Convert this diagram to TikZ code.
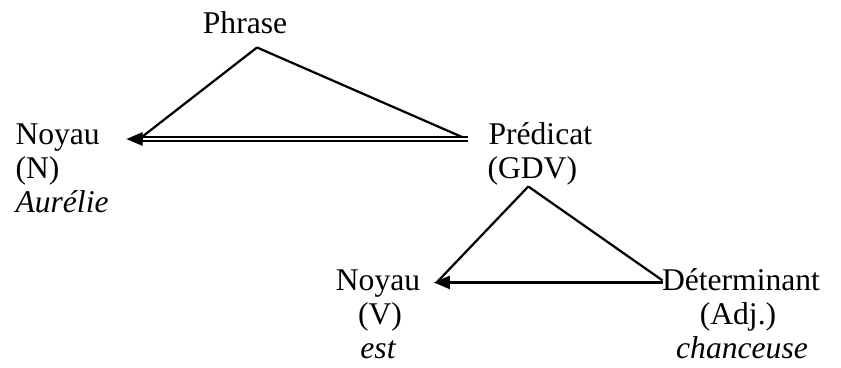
\documentclass[tikz,border=0pt]{standalone}
\usepackage{fontspec}
\setmainfont{Liberation Serif}
\usetikzlibrary{arrows.meta}

\begin{document}
\begin{tikzpicture}[
    x=0.3797pt, y=-0.3797pt,
    font=\fontsize{12}{12.9}\selectfont,
    word/.style={inner sep=0pt, text height=8.4pt, text depth=2.64pt},
    line/.style={line width=0.85pt},
    arrow/.style={line width=0.85pt, -{Triangle[length=6.2pt, width=5pt]}},
    dblline/.style={line width=0.85pt, double, double distance=0.9pt}
]
    \useasboundingbox (0,0) rectangle (841,367);
    % sentence level
    \node[word, anchor=base] (phrase) at (245,33) {Phrase};
    \node[word, anchor=base west] (noyauN) at (15,144) {Noyau};
    \node[word, anchor=base west] (catN) at (15,178) {(N)};
    \node[word, anchor=base west] (motN) at (15,212) {\itshape Aurélie};
    \node[word, anchor=base west] (predicat) at (488,144) {Prédicat};
    \node[word, anchor=base west] (gdv) at (487,178) {(GDV)};
    % predicate level
    \node[word, anchor=base] (noyauV) at (378,290) {Noyau};
    \node[word, anchor=base] (catV) at (380,324) {(V)};
    \node[word, anchor=base] (motV) at (378,358) {\itshape est};
    \node[word, anchor=base] (determ) at (741,290) {Déterminant};
    \node[word, anchor=base] (catD) at (738,324) {(Adj.)};
    \node[word, anchor=base] (motD) at (742,358) {\itshape chanceuse};
    \draw[line] ([shift={(12,7)}]phrase.south) -- ([shift={(41,1)}]noyauN.east);
    \draw[line] ([shift={(12,7)}]phrase.south) -- ([shift={(-25,1)}]predicat.west);
    % double link, tip drawn on its own
    \draw[dblline] ([shift={(-20,2.6)}]predicat.west) -- ([shift={(38,2.6)}]noyauN.east);
    \draw[arrow] ([shift={(42,2.6)}]noyauN.east) -- ([shift={(26,2.6)}]noyauN.east);
    \draw[line] ([shift={(-4,1)}]gdv.south) -- ([shift={(17,-1)}]noyauV.east);
    \draw[line] ([shift={(-4,1)}]gdv.south) -- ([shift={(1,-2)}]determ.west);
    \draw[arrow] ([shift={(1,0)}]determ.west) -- ([shift={(13,0)}]noyauV.east);
\end{tikzpicture}
\end{document}
